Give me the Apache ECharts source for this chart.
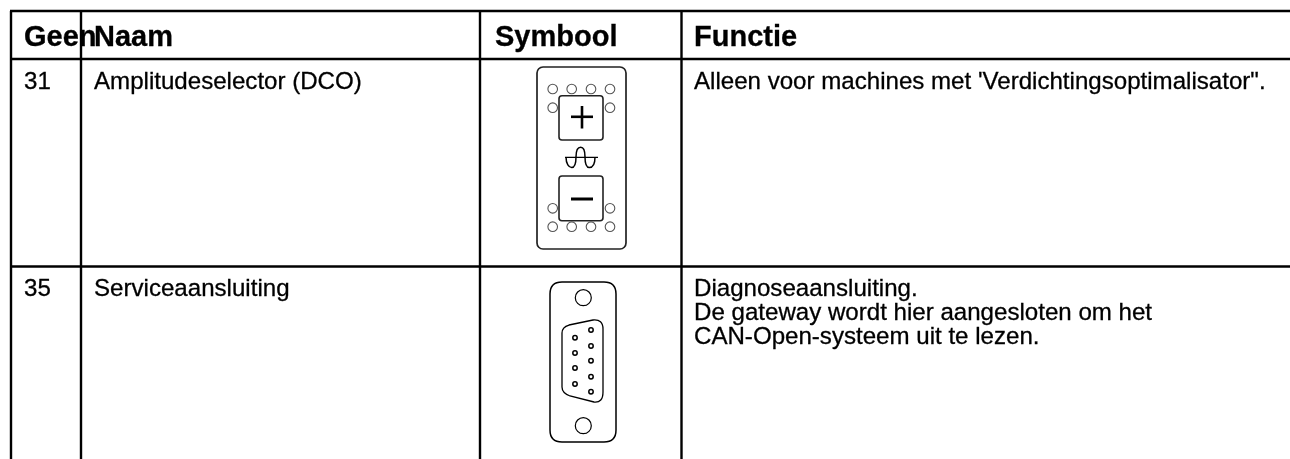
<!DOCTYPE html>
<html lang="nl">
<head>
    <meta charset="UTF-8">
    <title>Bedieningselementen</title>
    <script src="https://cdn.jsdelivr.net/npm/echarts@6/dist/echarts.min.js"></script>
    <style>
        html, body { margin: 0; padding: 0; background: #fff; }
        #chart { width: 1290px; height: 459px; }
    </style>
</head>
<body>
    <div id="chart"></div>
    <script>
        // tabelinhoud
        var headers = ['Geen', 'Naam', 'Symbool', 'Functie'];
        var rowNumbers = ['31', '35'];
        var rowNames = ['Amplitudeselector (DCO)', 'Serviceaansluiting'];
        var rowSymbols = ['amplitude', 'dsub'];
        var rowFunctions = [
            "Alleen voor machines met 'Verdichtingsoptimalisator\".",
            'Diagnoseaansluiting.\nDe gateway wordt hier aangesloten om het\nCAN-Open-systeem uit te lezen.'
        ];

        // tabelraster (pixels)
        var colEdges = [11, 81, 480, 681.5];
        var rowEdges = [11, 59, 266.5];
        var tableRight = 1290;
        var tableBottom = 459;
        var textX = [24, 94, 495, 694];

        var INK = '#000';
        var myChart = echarts.init(document.getElementById('chart'));

        function stroke(w, color) {
            return { fill: 'none', stroke: color || INK, lineWidth: w };
        }

        function rule(api, x1, y1, x2, y2, w) {
            var a = api.coord([x1, y1]), b = api.coord([x2, y2]);
            return { type: 'line', shape: { x1: a[0], y1: a[1], x2: b[0], y2: b[1] }, style: stroke(w) };
        }

        function label(api, x, y, text, font, lh) {
            var p = api.coord([x, y]);
            return {
                type: 'text', x: p[0], y: p[1],
                style: { text: text, font: font, fill: INK, stroke: INK, lineWidth: 0.3, textBaseline: 'top', lineHeight: lh }
            };
        }

        // bedieningspaneel met + en - toets
        function amplitudeSymbol(cx, cy) {
            var kids = [];
            kids.push({ type: 'rect', shape: { x: -44, y: -91, width: 89, height: 182, r: 6 }, style: stroke(1.7, '#222') });
            kids.push({ type: 'rect', shape: { x: -22, y: -62.3, width: 44, height: 44.3, r: 3 }, style: stroke(1.6, '#222') });
            kids.push({ type: 'rect', shape: { x: -22, y: 18, width: 44, height: 44.7, r: 3 }, style: stroke(1.6, '#222') });
            [-28.3, -9.3, 10, 29].forEach(function (x) {
                kids.push({ type: 'circle', shape: { cx: x, cy: -69, r: 4.8 }, style: stroke(1.1, '#555') });
                kids.push({ type: 'circle', shape: { cx: x, cy: 68.7, r: 4.8 }, style: stroke(1.1, '#555') });
            });
            [-28.3, 29].forEach(function (x) {
                kids.push({ type: 'circle', shape: { cx: x, cy: -50.3, r: 4.8 }, style: stroke(1.1, '#555') });
                kids.push({ type: 'circle', shape: { cx: x, cy: 50.3, r: 4.8 }, style: stroke(1.1, '#555') });
            });
            kids.push({ type: 'rect', shape: { x: -10, y: -42.5, width: 22, height: 2.6 }, style: { fill: INK } });
            kids.push({ type: 'rect', shape: { x: -0.3, y: -52, width: 2.6, height: 22.5 }, style: { fill: INK } });
            kids.push({ type: 'rect', shape: { x: -10, y: 39.5, width: 22, height: 3 }, style: { fill: INK } });
            kids.push({ type: 'line', shape: { x1: -16, y1: -0.7, x2: 17, y2: -0.7 }, style: stroke(1.3) });
            kids.push({ type: 'path', shape: { pathData: 'M-15 -1 C-15 6 -12 9.5 -9.3 9.5 C-5 9.5 -5 3 -5 -1 C-5 -7 -4 -10.7 -0.3 -10.7 C3.5 -10.7 4 -6 4 -1 C4 4 5 9.5 8.3 9.5 C11.5 9.5 14 6 14 -1' }, style: stroke(1.5) });
            return { type: 'group', x: cx, y: cy, children: kids };
        }

        // 9-polige sub-D aansluiting
        function dsubSymbol(cx, cy) {
            var kids = [];
            kids.push({ type: 'path', shape: { pathData: 'M-21 -80 L21 -80 Q33 -80 33 -68 L33 68 Q33 80 21 80 L-21 80 Q-33 80 -33 68 L-33 -68 Q-33 -80 -21 -80 Z' }, style: stroke(1.5) });
            kids.push({ type: 'circle', shape: { cx: 0.3, cy: -64.3, r: 8 }, style: stroke(1.2) });
            kids.push({ type: 'circle', shape: { cx: 0.3, cy: 63.7, r: 8 }, style: stroke(1.2) });
            kids.push({ type: 'path', shape: { pathData: 'M-21 -29 Q-21 -35 -14 -37 L10 -42 Q20 -43 20 -33 L20 30 Q20 41 11 40 L-13 34 Q-21 31 -21 25 Z' }, style: stroke(1.3) });
            var pins = [[-8, -24.3], [-8, -9], [-8, 6], [-8, 22], [8, -32], [8, -16], [8, -1.3], [8, 14.7], [8, 29.7]];
            pins.forEach(function (p) {
                kids.push({ type: 'circle', shape: { cx: p[0], cy: p[1], r: 2.2 }, style: stroke(1.5) });
            });
            return { type: 'group', x: cx, y: cy, children: kids };
        }

        var symbolCentre = { amplitude: [581, 158], dsub: [583, 362] };
        var symbolDrawers = { amplitude: amplitudeSymbol, dsub: dsubSymbol };

        function renderTable(params, api) {
            var kids = [];
            // raster
            rowEdges.forEach(function (y) {
                kids.push(rule(api, colEdges[0] - 1, y, tableRight, y, 2.6));
            });
            colEdges.forEach(function (x) {
                kids.push(rule(api, x, rowEdges[0], x, tableBottom, 2.4));
            });
            // kop
            headers.forEach(function (h, i) {
                kids.push(label(api, textX[i], 23, h, 'bold 29px "Liberation Sans"', 30));
            });
            // rijen
            rowNumbers.forEach(function (n, r) {
                var y = rowEdges[r + 1] + 11;
                var font = '24.1px "Liberation Sans"';
                kids.push(label(api, textX[0], y, n, font, 24));
                kids.push(label(api, textX[1], y, rowNames[r], font, 24));
                kids.push(label(api, textX[3], y, rowFunctions[r], font, 24));
                var p = api.coord(symbolCentre[rowSymbols[r]]);
                kids.push(symbolDrawers[rowSymbols[r]](p[0], p[1]));
            });
            return { type: 'group', children: kids };
        }

        myChart.setOption({
            animation: false,
            backgroundColor: '#fff',
            grid: { left: 0, right: 0, top: 0, bottom: 0 },
            xAxis: { type: 'value', min: 0, max: 1290, show: false },
            yAxis: { type: 'value', min: 0, max: 459, inverse: true, show: false },
            series: [{
                type: 'custom',
                coordinateSystem: 'cartesian2d',
                renderItem: renderTable,
                data: [[0, 0]],
                silent: true,
                clip: false
            }]
        });
    </script>
</body>
</html>
